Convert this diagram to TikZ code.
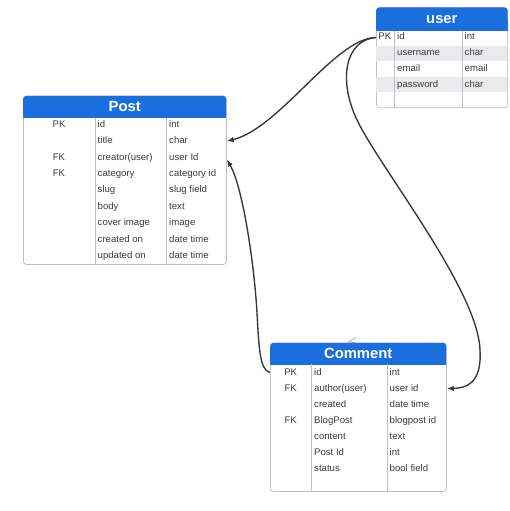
\documentclass[tikz,border=0pt]{standalone}
\usepackage{fontspec}
\setmainfont{Liberation Sans}
\usetikzlibrary{arrows.meta}

\definecolor{headblue}{RGB}{26,110,222}
\definecolor{stripegray}{RGB}{234,234,236}
\definecolor{framegray}{RGB}{192,192,196}
\definecolor{textgray}{RGB}{58,58,62}
\definecolor{wiregray}{RGB}{50,54,64}

\begin{document}
\begin{tikzpicture}[
        x=1pt, y=-1pt,
        % ER-table style, pixel grid
        every node/.style={font=\fontsize{9.6}{11}\selectfont, text=textgray, inner sep=0pt},
        % Box Styles
        tablebody/.style={
            rectangle,
            draw=framegray,
            fill=white,
            line width=0.8pt,
            rounded corners=3pt,
            anchor=north west
        },
        tablehead/.style={
            rectangle,
            fill=headblue,
            rounded corners=3pt,
            anchor=north west
        },
        headtext/.style={text=white, font=\fontsize{14.8}{16}\selectfont\bfseries},
        keycell/.style={anchor=base, text height=7pt, text depth=2pt},
        cell/.style={anchor=base west, text height=7pt, text depth=2pt},
        divider/.style={draw=framegray, line width=0.8pt},
        % Connector Styles
        wire/.style={-{Latex[length=7pt,width=5.5pt]}, line width=1.35pt, draw=wiregray}
    ]

    \path[fill=white] (0,0) rectangle (509,511);
    \useasboundingbox (0,0) rectangle (509,511);

    % --- Post (Left) ---
    \node[tablebody, minimum width=203pt, minimum height=168.3pt] (post) at (23,95.7) {};
    \node[tablehead, minimum width=203pt, minimum height=22pt] (post-head) at (23,95.7) {};
    \fill[headblue] (post-head.west) rectangle (post-head.south east);
    \node[headtext] (post-title) at (post-head.center) {Post};
    \draw[divider] (95,117.7) -- (95,264);
    \draw[divider] (166.7,117.7) -- (166.7,264);

    \node[keycell] (post-k1) at (59,127.3) {PK};  \node[cell] (post-n1) at (97.5,127.3) {id};            \node[cell] (post-t1) at (169,127.3) {int};
                                                  \node[cell] (post-n2) at (97.5,143.7) {title};         \node[cell] (post-t2) at (169,143.7) {char};
    \node[keycell] (post-k3) at (59,160.1) {FK};  \node[cell] (post-n3) at (97.5,160.1) {creator(user)}; \node[cell] (post-t3) at (169,160.1) {user Id};
    \node[keycell] (post-k4) at (59,176.5) {FK};  \node[cell] (post-n4) at (97.5,176.5) {category};      \node[cell] (post-t4) at (169,176.5) {category id};
                                                  \node[cell] (post-n5) at (97.5,192.9) {slug};          \node[cell] (post-t5) at (169,192.9) {slug field};
                                                  \node[cell] (post-n6) at (97.5,209.3) {body};          \node[cell] (post-t6) at (169,209.3) {text};
                                                  \node[cell] (post-n7) at (97.5,225.7) {cover image};   \node[cell] (post-t7) at (169,225.7) {image};
                                                  \node[cell] (post-n8) at (97.5,242.1) {created on};    \node[cell] (post-t8) at (169,242.1) {date time};
                                                  \node[cell] (post-n9) at (97.5,258.5) {updated on};    \node[cell] (post-t9) at (169,258.5) {date time};

    % --- user (Top Right) ---
    \node[tablebody, minimum width=131.3pt, minimum height=100pt] (user) at (376,7.3) {};
    \fill[stripegray] (376.4,46) rectangle (506.9,61.3);
    \fill[stripegray] (376.4,76.7) rectangle (506.9,92);
    \node[tablehead, minimum width=131.3pt, minimum height=23.4pt] (user-head) at (376,7.3) {};
    \fill[headblue] (user-head.west) rectangle (user-head.south east);
    \node[headtext] (user-title) at (user-head.center) {user};
    \draw[divider] (394,30.7) -- (394,107.3);
    \draw[divider] (462.3,30.7) -- (462.3,107.3);

    \node[keycell] (user-k1) at (384.8,40) {PK};  \node[cell] (user-n1) at (397,40) {id};         \node[cell] (user-t1) at (464.5,40) {int};
                                                  \node[cell] (user-n2) at (397,55.7) {username}; \node[cell] (user-t2) at (464.5,55.7) {char};
                                                  \node[cell] (user-n3) at (397,71.4) {email};    \node[cell] (user-t3) at (464.5,71.4) {email};
                                                  \node[cell] (user-n4) at (397,87.1) {password}; \node[cell] (user-t4) at (464.5,87.1) {char};

    % --- Comment (Bottom) ---
    \node[tablebody, minimum width=176pt, minimum height=148.3pt] (comment) at (270,342.7) {};
    \node[tablehead, minimum width=176pt, minimum height=21.6pt] (comment-head) at (270,342.7) {};
    \fill[headblue] (comment-head.west) rectangle (comment-head.south east);
    \node[headtext] (comment-title) at (comment-head.center) {Comment};
    \draw[divider] (311.3,364.3) -- (311.3,491);
    \draw[divider] (387.3,364.3) -- (387.3,491);

    \node[keycell] (comment-k1) at (290.7,375) {PK};    \node[cell] (comment-n1) at (314,375) {id};            \node[cell] (comment-t1) at (389.5,375) {int};
    \node[keycell] (comment-k2) at (290.7,391.1) {FK};  \node[cell] (comment-n2) at (314,391.1) {author(user)}; \node[cell] (comment-t2) at (389.5,391.1) {user id};
                                                        \node[cell] (comment-n3) at (314,407.2) {created};      \node[cell] (comment-t3) at (389.5,407.2) {date time};
    \node[keycell] (comment-k4) at (290.7,423.3) {FK};  \node[cell] (comment-n4) at (314,423.3) {BlogPost};     \node[cell] (comment-t4) at (389.5,423.3) {blogpost id};
                                                        \node[cell] (comment-n5) at (314,439.4) {content};      \node[cell] (comment-t5) at (389.5,439.4) {text};
                                                        \node[cell] (comment-n6) at (314,455.5) {Post Id};      \node[cell] (comment-t6) at (389.5,455.5) {int};
                                                        \node[cell] (comment-n7) at (314,471.6) {status};       \node[cell] (comment-t7) at (389.5,471.6) {bool field};

    % stray mark above the Comment header
    \draw[framegray!70!black, line width=0.5pt] (356,337.5) -- (348.5,342) -- (355.5,342.6);

    % --- Paths & Connections ---
    \coordinate (user-out) at (user.west |- user-n1);
    \coordinate (post-in1) at (post.east |- post-n2);
    \coordinate (post-in2) at ([yshift=-2pt]post.east |- post-n3);
    \coordinate (comment-in) at (comment.east |- comment-n2);
    \coordinate (comment-out) at (comment.west |- comment-n1);

    % user.id -> Post.creator
    \draw[wire] (user-out) .. controls (335,38) and (280,128) .. (post-in1);
    % user.id -> Comment.author
    \draw[wire] (user-out) .. controls (345,40) and (338,80) .. (357,120)
        .. controls (380,168) and (478,290) .. (480,350)
        .. controls (482,385) and (465,388) .. (comment-in);
    % Comment.BlogPost -> Post
    \draw[wire] (comment-out) .. controls (260,370) and (259,350) .. (257,313)
        .. controls (254,260) and (242,185) .. (post-in2);

\end{tikzpicture}
\end{document}
